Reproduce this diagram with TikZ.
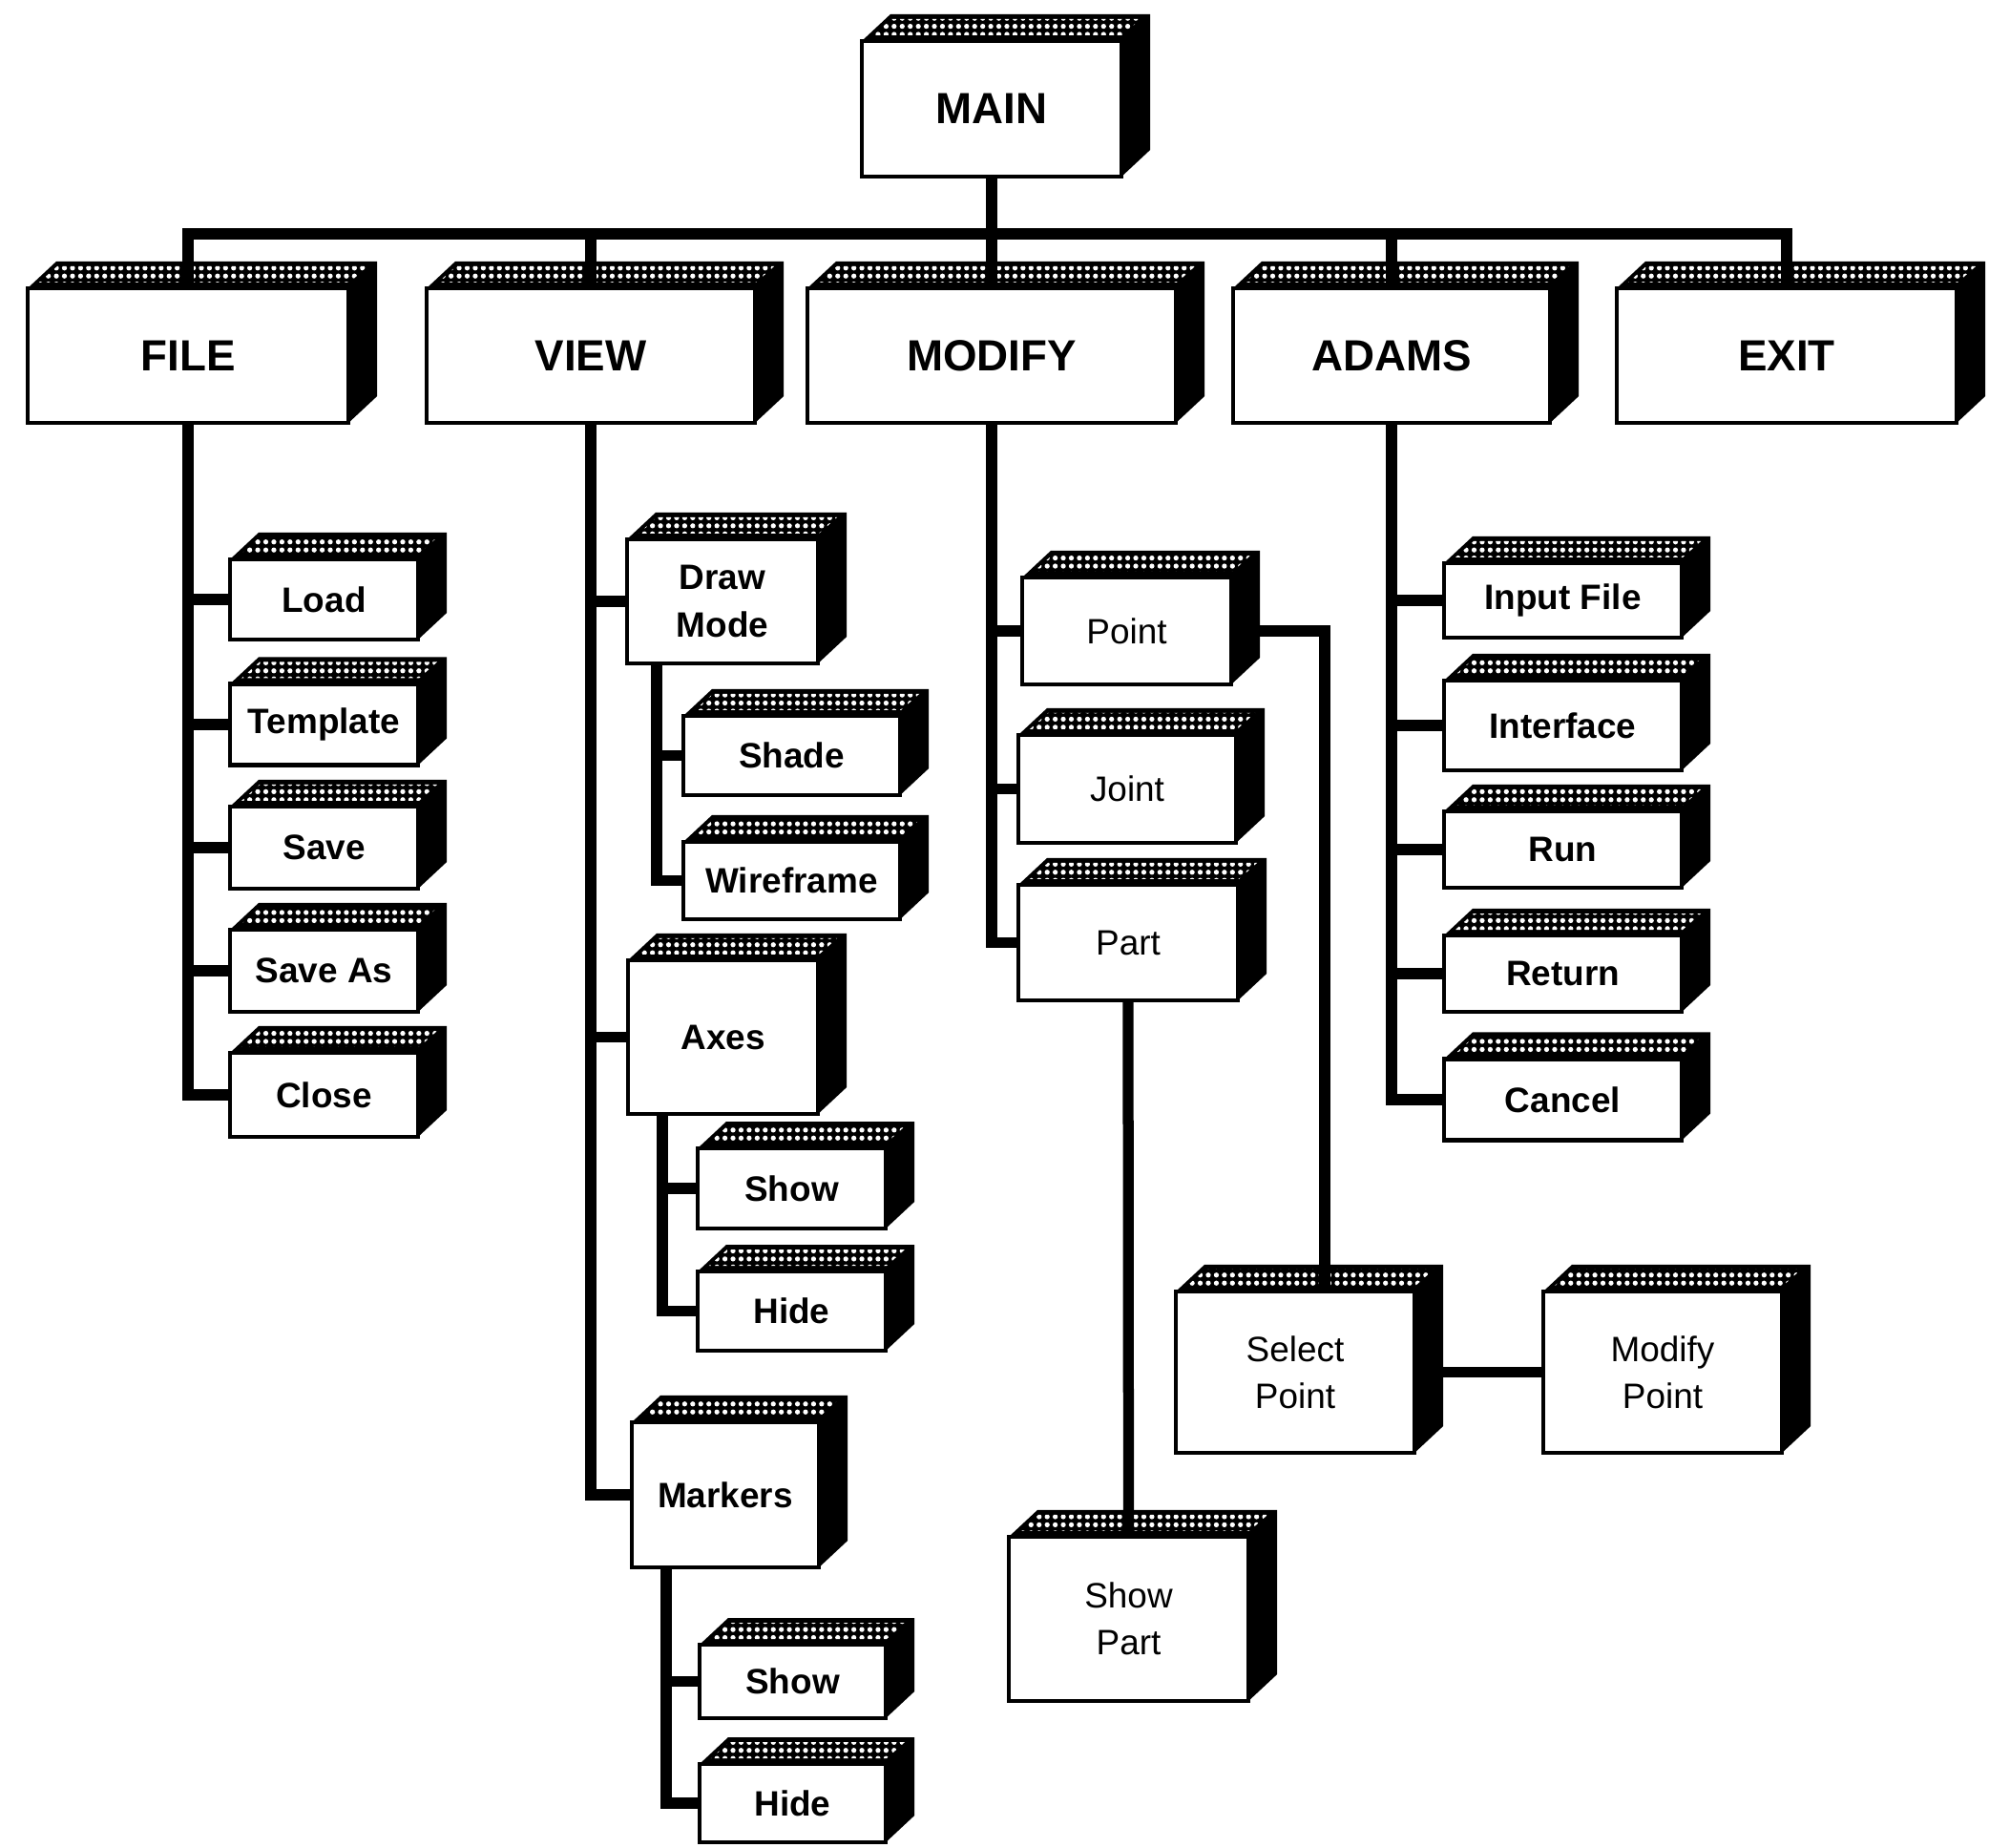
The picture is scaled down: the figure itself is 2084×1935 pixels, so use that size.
\documentclass[tikz,border=0pt]{standalone}
\usepackage{fontspec}
\setmainfont{Liberation Sans}
\usetikzlibrary{calc,patterns.meta}
\tikzset{
  face/.style={draw=black, line width=1.3pt, fill=white, outer sep=0pt, inner sep=0pt, align=center},
  toplvl/.style={face, minimum height=1.41cm, font=\fontsize{13}{16}\selectfont\bfseries},
  subb/.style={face, font=\fontsize{10.5}{14}\selectfont\bfseries},
  subr/.style={face, font=\fontsize{10.5}{14}\selectfont},
  conn/.style={line width=3.2pt, black},
  topdots/.style={pattern={Dots[distance=2.4pt, radius=0.75pt]}, pattern color=white},
}
\begin{document}
\begin{tikzpicture}[x=0.01cm, y=-0.01cm]
\useasboundingbox[fill=white] (0,0) rectangle (2084,1935);
% ---- top level
\node[toplvl, minimum width=2.72cm, minimum height=1.42cm] (main) at (1039,114) {MAIN};
\node[toplvl, minimum width=3.36cm] (file)   at (197,372.5)  {FILE};
\node[toplvl, minimum width=3.44cm] (view)   at (619,372.5)  {VIEW};
\node[toplvl, minimum width=3.86cm] (modify) at (1039,372.5) {MODIFY};
\node[toplvl, minimum width=3.32cm] (adams)  at (1458,372.5) {ADAMS};
\node[toplvl, minimum width=3.56cm] (exit)   at (1872,372.5) {EXIT};
% ---- FILE
\node[subb, minimum width=1.97cm, minimum height=0.84cm] (load)   at (339.5,628)  {Load};
\node[subb, minimum width=1.97cm, minimum height=0.85cm] (tmpl)   at (339.5,759)  {Template};
\node[subb, minimum width=1.97cm, minimum height=0.86cm] (save)   at (339.5,888)  {Save};
\node[subb, minimum width=1.97cm, minimum height=0.86cm] (saveas) at (339.5,1017) {Save As};
\node[subb, minimum width=1.97cm, minimum height=0.88cm] (close)  at (339.5,1147) {Close};
% ---- VIEW
\node[subb, minimum width=2.00cm, minimum height=1.30cm] (dm)    at (757,630)     {Draw\\Mode};
\node[subb, minimum width=2.27cm, minimum height=0.83cm] (shade) at (829.5,791.5) {Shade};
\node[subb, minimum width=2.27cm, minimum height=0.81cm] (wire)  at (829.5,922.5) {Wireframe};
\node[subb, minimum width=1.99cm, minimum height=1.61cm] (axes)  at (757.5,1086.5) {Axes};
\node[subb, minimum width=1.97cm, minimum height=0.84cm] (ashow) at (829.5,1245)  {Show};
\node[subb, minimum width=1.97cm, minimum height=0.83cm] (ahide) at (829.5,1373.5) {Hide};
\node[subb, minimum width=1.96cm, minimum height=1.52cm] (mark)  at (760,1566)    {Markers};
\node[subb, minimum width=1.95cm, minimum height=0.77cm] (mshow) at (830.5,1761.5) {Show};
\node[subb, minimum width=1.95cm, minimum height=0.82cm] (mhide) at (830.5,1889)  {Hide};
% ---- MODIFY
\node[subr, minimum width=2.19cm, minimum height=1.12cm] (pt)   at (1180.5,661)  {Point};
\node[subr, minimum width=2.28cm, minimum height=1.13cm] (jt)   at (1181,826.5)  {Joint};
\node[subr, minimum width=2.30cm, minimum height=1.21cm] (prt)  at (1182,987.5)  {Part};
\node[subr, minimum width=2.50cm, minimum height=1.69cm] (sel)  at (1357,1437.5) {Select\\Point};
\node[subr, minimum width=2.50cm, minimum height=1.69cm] (modp) at (1742,1437.5) {Modify\\Point};
\node[subr, minimum width=2.51cm, minimum height=1.72cm] (shp)  at (1182.5,1696) {Show\\Part};
% ---- ADAMS
\node[subb, minimum width=2.49cm, minimum height=0.78cm] (inp)  at (1637.5,629)  {Input File};
\node[subb, minimum width=2.49cm, minimum height=0.94cm] (intf) at (1637.5,760)  {Interface};
\node[subb, minimum width=2.49cm, minimum height=0.80cm] (run)  at (1637.5,890)  {Run};
\node[subb, minimum width=2.49cm, minimum height=0.80cm] (ret)  at (1637.5,1020) {Return};
\node[subb, minimum width=2.49cm, minimum height=0.85cm] (canc) at (1637.5,1152) {Cancel};
% ---- 3D top and side faces
\foreach \n in {main,file,view,modify,adams,exit,load,tmpl,save,saveas,close,dm,shade,wire,axes,ashow,ahide,mark,mshow,mhide,pt,jt,prt,sel,modp,shp,inp,intf,run,ret,canc}{
  \fill[black] (\n.north west) -- ++(30,-28) -- ($(\n.north east)+(30,-28)$) -- ($(\n.south east)+(30,-28)$) -- (\n.south east) -- (\n.north east) -- cycle;
  \fill[topdots] ($(\n.north west)+(12,-6)$) -- ($(\n.north west)+(31,-23)$) -- ($(\n.north east)+(20,-23)$) -- ($(\n.north east)+(1,-6)$) -- cycle;
}
% ---- connectors
\coordinate (bus) at (1039,245);
\draw[conn] (file.north) |- (bus) -| (exit.north);
\draw[conn] (main.south) -- (modify.north);
\draw[conn] (view.north) -- (view.north |- bus);
\draw[conn] (adams.north) -- (adams.north |- bus);
% FILE
\draw[conn] (file.south) |- (close.west);
\foreach \n in {load,tmpl,save,saveas}{\draw[conn] (\n.west) -- (\n.west -| file.south);}
% VIEW
\draw[conn] (view.south) |- (mark.west);
\draw[conn] (dm.west) -- (dm.west -| view.south);
\draw[conn] (axes.west) -- (axes.west -| view.south);
\coordinate (dmj) at ($(dm.south west)+(31,0)$);
\draw[conn] (dmj) |- (wire.west);
\draw[conn] (shade.west) -- (shade.west -| dmj);
\coordinate (axj) at ($(axes.south west)+(36,0)$);
\draw[conn] (axj) |- (ahide.west);
\draw[conn] (ashow.west) -- (ashow.west -| axj);
\coordinate (mkj) at ($(mark.south west)+(36,0)$);
\draw[conn] (mkj) |- (mhide.west);
\draw[conn] (mshow.west) -- (mshow.west -| mkj);
% MODIFY
\draw[conn] (modify.south) |- (prt.west);
\draw[conn] (pt.west) -- (pt.west -| modify.south);
\draw[conn] (jt.west) -- (jt.west -| modify.south);
\draw[conn] (pt.east) -| ($(sel.north)+(31,0)$);
\draw[conn] (sel.east) -- (modp.west);
\draw[conn] (prt.south) -- (shp.north);
% ADAMS
\draw[conn] (adams.south) |- (canc.west);
\foreach \n in {inp,intf,run,ret}{\draw[conn] (\n.west) -- (\n.west -| adams.south);}
\end{tikzpicture}
\end{document}
